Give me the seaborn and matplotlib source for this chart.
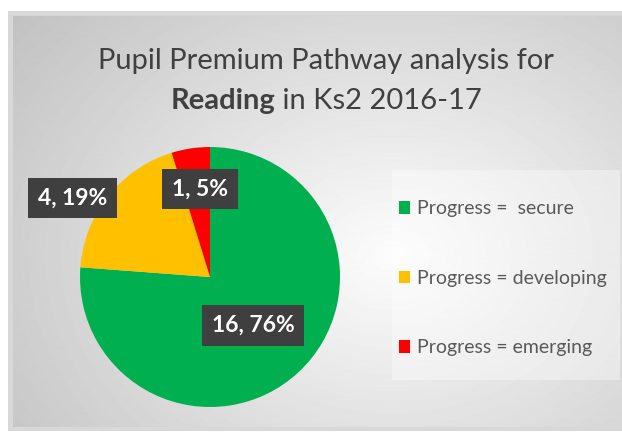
import numpy as np
import seaborn as sns
import matplotlib.pyplot as plt

categories = ["Progress =  secure", "Progress = developing", "Progress = emerging"]
counts = [16, 4, 1]
colors = ["#00b050", "#ffc000", "#ff0000"]

sns.set_theme(style="white")
plt.rcParams["font.family"] = ["Lato", "DejaVu Sans"]

W, H = 622, 433
fig = plt.figure(figsize=(W / 100, H / 100), dpi=100)
fig.patch.set_facecolor("white")

def px(x0, y0, w, h):
    # pixel box (top-left origin) -> figure fraction rect
    return [x0 / W, 1 - (y0 + h) / H, w / W, h / H]

# shadow + grey panel with radial gradient
shadow = fig.add_axes(px(8, 11, 614, 420))
shadow.imshow(np.ones((2, 2)), cmap="Greys", vmin=0, vmax=4, aspect="auto")
shadow.set_axis_off()

bg = fig.add_axes(px(13, 16, 609, 411))
yy, xx = np.mgrid[0:411, 0:609]
d = np.sqrt(((xx - 380) / 420) ** 2 + ((yy - 240) / 330) ** 2)
grad = 0.99 - 0.2 * np.clip(d, 0, 1.2)
bg.imshow(grad, cmap="gray", vmin=0, vmax=1, aspect="auto")
bg.set_axis_off()

# legend area
leg_bg = fig.add_axes(px(392, 170, 228, 210))
leg_bg.set_facecolor((1, 1, 1, 0.35))
leg_bg.set_xticks([])
leg_bg.set_yticks([])
for s in leg_bg.spines.values():
    s.set_visible(False)

# pie
ax = fig.add_axes(px(80, 147, 260, 260))
ax.patch.set_alpha(0)
wedges, _ = ax.pie(counts, colors=colors, startangle=90, counterclock=False,
                   radius=1, wedgeprops=dict(linewidth=0))
ax.set_xlim(-1, 1)
ax.set_ylim(-1, 1)
ax.set_aspect("equal")
ax.set_axis_off()

total = sum(counts)
label_r = [0.5, 1.22, 0.68]
label_da = [-1, 8.6, -2]
for w, c, r, da in zip(wedges, counts, label_r, label_da):
    ang = np.deg2rad((w.theta1 + w.theta2) / 2 + da)
    ax.text(r * np.cos(ang), r * np.sin(ang), f"{c}, {round(100 * c / total)}%",
            ha="center", va="center", color="white", fontsize=16.5, fontweight="bold",
            bbox=dict(boxstyle="square,pad=0.42", facecolor="#3f3f3f",
                      edgecolor="none"))

# legend
fig.legend(wedges, categories, loc="upper left", bbox_to_anchor=(381 / W, 1 - 183 / H),
           frameon=False, fontsize=14, labelcolor="#595959", handlelength=0.6,
           handleheight=0.6, handletextpad=0.35, labelspacing=2.7)

# title
fig.text(326 / W, 1 - 61 / H, "Pupil Premium Pathway analysis for", ha="center",
         va="center", fontsize=21, color="#404040")
t1 = fig.text(0, 1 - 101 / H, "Reading", ha="left", va="center", fontsize=21,
              color="#404040", fontweight="bold")
t2 = fig.text(0, 1 - 101 / H, " in Ks2 2016-17", ha="left", va="center",
              fontsize=21, color="#404040")
fig.canvas.draw()
r = fig.canvas.get_renderer()
w1 = t1.get_window_extent(r).width
w2 = t2.get_window_extent(r).width
x0 = 326 - (w1 + w2) / 2
t1.set_x(x0 / W)
t2.set_x((x0 + w1) / W)

fig.savefig("out.png", dpi=100)
